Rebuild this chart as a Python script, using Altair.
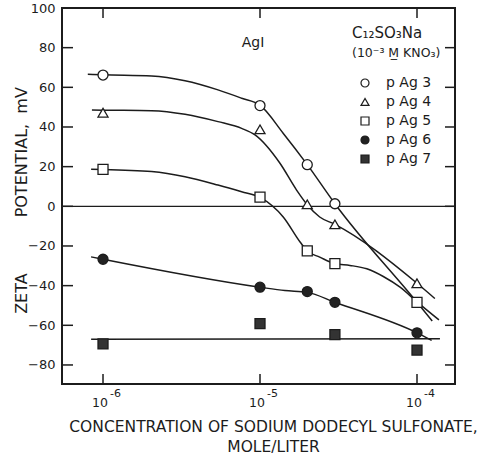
import altair as alt
import pandas as pd

INK = "#1c1c1c"
FONT = "DejaVu Sans"

series_names = ["p Ag 3", "p Ag 4", "p Ag 5", "p Ag 6", "p Ag 7"]
series_shapes = ["circle", "triangle-up", "square", "circle", "square"]
series_fills = ["white", "white", "white", "#222222", "#333333"]

# Measured zeta potentials (mV) vs. surfactant concentration (mol/L)
pag3_conc = [1e-6, 1e-5, 2e-5, 3e-5]
pag3_mv = [66.2, 50.8, 21.0, 1.3]
pag4_conc = [1e-6, 1e-5, 2e-5, 3e-5, 1e-4]
pag4_mv = [47.2, 38.8, 1.0, -9.1, -38.8]
pag5_conc = [1e-6, 1e-5, 2e-5, 3e-5, 1e-4]
pag5_mv = [18.6, 4.6, -22.5, -28.9, -48.4]
pag6_conc = [1e-6, 1e-5, 2e-5, 3e-5, 1e-4]
pag6_mv = [-26.7, -40.8, -43.0, -48.4, -63.8]
pag7_conc = [1e-6, 1e-5, 3e-5, 1e-4]
pag7_mv = [-69.4, -59.2, -64.7, -72.5]

# Hand-drawn trend curves for each pAg
pag3_curve_conc = [8.0e-7, 1e-6, 2.04e-6, 3.33e-6, 5.4e-6, 7.64e-6, 1e-5, 1.4e-5, 2e-5, 3e-5, 1e-4, 1.25e-4]
pag3_curve_mv = [66.6, 66.3, 65.7, 63.3, 58.7, 54.5, 51.0, 37.0, 21.0, 1.3, -48.4, -57.8]
pag4_curve_conc = [8.5e-7, 1e-6, 2.04e-6, 3.33e-6, 5.4e-6, 7.64e-6, 9.3e-6, 1.34e-5, 1.71e-5, 2e-5, 2.4e-5, 3e-5, 1e-4, 1.3e-4]
pag4_curve_mv = [48.6, 48.5, 48.2, 46.4, 42.7, 39.3, 36.0, 21.7, 8.2, 0.8, -5.4, -9.1, -38.8, -46.5]
pag5_curve_conc = [8.4e-7, 1e-6, 2.04e-6, 3.33e-6, 5.4e-6, 7.64e-6, 1e-5, 1.41e-5, 1.8e-5, 2e-5, 2.4e-5, 3e-5,
                   3.74e-5, 4.79e-5, 6.1e-5, 7.8e-5, 1e-4, 1.38e-4]
pag5_curve_mv = [18.7, 18.6, 17.5, 14.9, 10.7, 7.3, 4.5, -5.5, -18.0, -22.5, -25.6, -28.9,
                 -29.8, -31.5, -35.4, -40.8, -48.2, -57.3]
pag6_curve_conc = [8.39e-7, 1e-6, 1e-5, 1.44e-5, 2e-5, 3e-5, 1e-4, 1.24e-4]
pag6_curve_mv = [-25.5, -26.7, -40.8, -42.5, -43.4, -48.4, -63.8, -67.6]
pag7_curve_conc = [8.4e-7, 1.4e-4]
pag7_curve_mv = [-67.0, -66.8]

decade_ticks = [1e-6, 1e-5, 1e-4]
decade_exponents = ["-6", "-5", "-4"]
mv_ticks = [-80, -60, -40, -20, 0, 20, 40, 60, 80]
mv_labels = [-80, -60, -40, -20, 0, 20, 40, 60, 80, 100]

legend_heading = ["C\u2081\u2082SO\u2083Na", "(10\u207b\u00b3 M\u0332 KNO\u2083)"]
legend_heading_sizes = [15, 12.5]


def stack(groups):
    return pd.concat(
        [pd.DataFrame({"conc": c, "mv": v, "series": s}) for c, v, s in groups],
        ignore_index=True,
    )


points = stack([
    (pag3_conc, pag3_mv, series_names[0]),
    (pag4_conc, pag4_mv, series_names[1]),
    (pag5_conc, pag5_mv, series_names[2]),
    (pag6_conc, pag6_mv, series_names[3]),
    (pag7_conc, pag7_mv, series_names[4]),
])
curves = stack([
    (pag3_curve_conc, pag3_curve_mv, series_names[0]),
    (pag4_curve_conc, pag4_curve_mv, series_names[1]),
    (pag5_curve_conc, pag5_curve_mv, series_names[2]),
    (pag6_curve_conc, pag6_curve_mv, series_names[3]),
    (pag7_curve_conc, pag7_curve_mv, series_names[4]),
])

xs = alt.Scale(type="log", domain=[5.48e-7, 1.746e-4], nice=False)
ys = alt.Scale(domain=[-89.6, 100], nice=False, zero=False)

NB = "\u00a0"
x_axis = alt.Axis(
    labels=False, ticks=False, domain=False, grid=False,
    title=["CONCENTRATION OF SODIUM DODECYL SULFONATE,", "MOLE/LITER"],
    titleFont=FONT, titleFontSize=15.5, titleFontWeight="normal", titleColor=INK,
    titleX=211, titleY=35, titleAlign="center", titleBaseline="top",
    titleLineHeight=20,
)
y_axis = alt.Axis(
    values=mv_labels, ticks=False, domain=False, grid=False,
    labelFont=FONT, labelFontSize=13, labelColor=INK, labelPadding=7,
    title="ZETA" + NB * 11 + "POTENTIAL," + NB * 2 + "mV",
    titleFont=FONT, titleFontSize=16, titleFontWeight="normal", titleColor=INK,
    titleX=-41, titleY=192, titleAngle=270, titleAlign="center", titleBaseline="middle",
)

X = alt.X("conc:Q", scale=xs, axis=x_axis)
Y = alt.Y("mv:Q", scale=ys, axis=y_axis)

legend = alt.Legend(
    orient="none", legendX=290, legendY=68, title=None,
    labelFont=FONT, labelFontSize=14, labelColor=INK, labelOffset=14,
    symbolSize=64, symbolStrokeColor=INK, symbolStrokeWidth=1.2, symbolOffset=6,
    rowPadding=5, padding=0,
)

zero_line = alt.Chart(pd.DataFrame({"mv": [0]})).mark_rule(
    color=INK, strokeWidth=1.2
).encode(y=Y)

lines = alt.Chart(curves).mark_line(
    interpolate="monotone", color=INK, strokeWidth=1.5
).encode(x=X, y=Y, detail="series:N")

markers = alt.Chart(points).mark_point(
    filled=True, strokeWidth=1.3, size=100, opacity=1
).encode(
    x=X, y=Y,
    shape=alt.Shape("series:N", scale=alt.Scale(domain=series_names, range=series_shapes), legend=legend),
    fill=alt.Fill("series:N", scale=alt.Scale(domain=series_names, range=series_fills), legend=legend),
    stroke=alt.Stroke("series:N", scale=alt.Scale(domain=series_names, range=[INK] * 5), legend=legend),
)

# Inward ticks on all four sides of the frame
xt = pd.DataFrame({"conc": decade_ticks, "exp": decade_exponents})
yt = pd.DataFrame({"mv": mv_ticks})
tick_style = dict(color=INK, strokeWidth=1.5)
ticks = [
    alt.Chart(xt).mark_rule(**tick_style).encode(x=X, y=alt.value(0), y2=alt.value(10)),
    alt.Chart(xt).mark_rule(**tick_style).encode(x=X, y=alt.value(376), y2=alt.value(366)),
    alt.Chart(yt).mark_rule(**tick_style).encode(y=Y, x=alt.value(0), x2=alt.value(11)),
    alt.Chart(yt).mark_rule(**tick_style).encode(y=Y, x=alt.value(393), x2=alt.value(383)),
]

# Decade labels written as 10 with a raised exponent
base_labels = alt.Chart(xt).mark_text(
    text="10", font=FONT, fontSize=12.5, color=INK, align="right", baseline="middle", dx=5
).encode(x=X, y=alt.value(395))
exp_labels = alt.Chart(xt).mark_text(
    font=FONT, fontSize=11, color=INK, align="left", baseline="middle", dx=7
).encode(x=X, y=alt.value(386), text="exp:N")

agi = alt.Chart(pd.DataFrame({"t": ["AgI"]})).mark_text(
    font=FONT, fontSize=14, color=INK, align="center", baseline="middle"
).encode(x=alt.value(191), y=alt.value(35), text="t:N")

# Two-line heading above the legend entries
heading = [
    alt.Chart(pd.DataFrame({"t": [legend_heading[i]]})).mark_text(
        font=FONT, fontSize=legend_heading_sizes[i], color=INK, align="left", baseline="middle"
    ).encode(x=alt.value(290), y=alt.value(25 + 20 * i), text="t:N")
    for i in range(2)
]

chart = alt.layer(
    zero_line, lines, *ticks, base_labels, exp_labels, agi, *heading, markers
).properties(
    width=393, height=376,
    padding={"left": 62, "top": 8, "right": 26, "bottom": 73},
    autosize=alt.AutoSizeParams(type="none"),
    background="white",
).configure(
    font=FONT
).configure_view(
    stroke=INK, strokeWidth=2
)

chart.save("out.html", embed_options={"renderer": "svg", "actions": False})
